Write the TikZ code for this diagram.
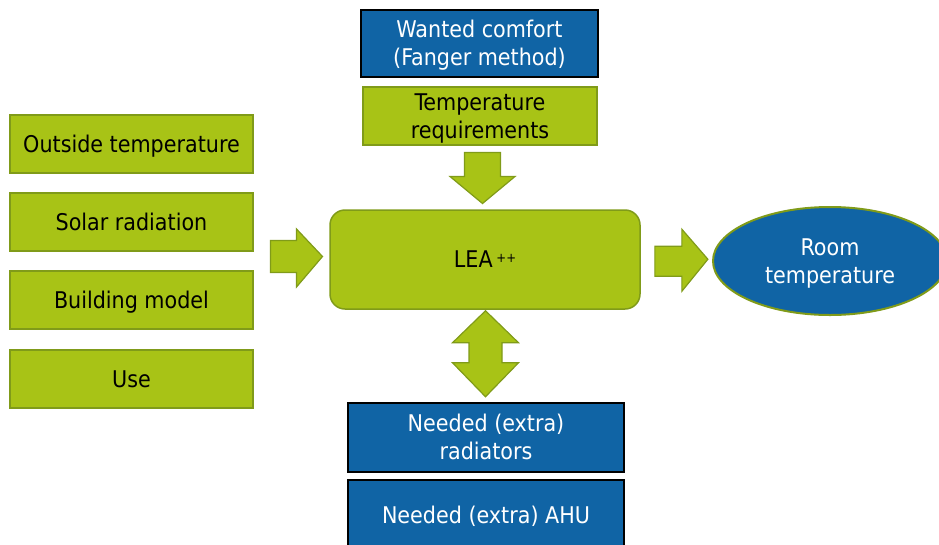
\documentclass[tikz,border=0pt]{standalone}
\usepackage{fontspec}
\setmainfont{DejaVu Sans Condensed}
\usetikzlibrary{shapes.geometric,calc}
\definecolor{lgreen}{RGB}{168,195,22}
\definecolor{dgreen}{RGB}{128,155,25}
\definecolor{dblue}{RGB}{16,100,165}
\newcommand\ls{\rule[-5.5pt]{0pt}{27.8pt}}
\begin{document}
\begin{tikzpicture}[x=1pt,y=-1pt,
  every node/.style={font=\fontsize{23}{28}\selectfont, align=center, inner sep=0pt},
  gbox/.style={draw=dgreen, line width=1.5pt, fill=lgreen, text=black},
  bbox/.style={draw=black, line width=2.5pt, fill=dblue, text=white},
  barrow/.style={draw=dgreen, line width=1.2pt, fill=lgreen, line join=miter}]
\useasboundingbox (0,0) rectangle (939,544);
\clip (0,0) rectangle (939,544);
% boxes
\node[bbox, minimum width=237, minimum height=67] (wc) at (479.5,43.5) {\ls Wanted comfort\\\ls(Fanger method)};
\node[gbox, minimum width=234, minimum height=58] (treq) at (480,116) {\ls Temperature\\\ls requirements};
\node[gbox, rounded corners=15pt, minimum width=310, minimum height=99] (lea) at (485,259.5) {\ls LEA\,\raisebox{0.45ex}{\fontsize{13}{13}\selectfont ++}};
\node[gbox, minimum width=243, minimum height=58] (o1) at (131.5,144) {\ls Outside temperature};
\node[gbox, minimum width=243, minimum height=58] (o2) at (131.5,222) {\ls Solar radiation};
\node[gbox, minimum width=243, minimum height=58] (o3) at (131.5,300) {\ls Building model};
\node[gbox, minimum width=243, minimum height=58] (o4) at (131.5,379) {\ls Use};
\node[ellipse, draw=dgreen, line width=2pt, fill=dblue, text=white, minimum width=234, minimum height=108] (room) at (830,261) {\ls Room\\\ls temperature};
\node[bbox, minimum width=276, minimum height=69] (rad) at (486,437.5) {\ls Needed (extra)\\\ls radiators};
\node[bbox, minimum width=276, minimum height=70] (ahu) at (486,515) {\ls Needed (extra) AHU};
% block arrows
\coordinate (dA) at ($(treq.south)!0.5!(lea.north)$);
\draw[barrow] ([shift={(-18,-25)}]dA) -- ([shift={(18,-25)}]dA) -- ([shift={(18,-1)}]dA) -- ([shift={(32.5,-1)}]dA) -- ([shift={(0,26)}]dA) -- ([shift={(-32.5,-1)}]dA) -- ([shift={(-18,-1)}]dA) -- cycle;
\coordinate (lA) at ($(o2.east |- lea.west)!0.5!(lea.west)$);
\draw[barrow] ([shift={(-21,-19)}]lA) -- ([shift={(5,-19)}]lA) -- ([shift={(5,-30.5)}]lA) -- ([shift={(31,-3)}]lA) -- ([shift={(5,27.5)}]lA) -- ([shift={(5,13)}]lA) -- ([shift={(-21,13)}]lA) -- cycle;
\coordinate (rA) at ($(lea.east)!0.5!(room.west)$);
\draw[barrow] ([shift={(-21.5,-14)}]rA) -- ([shift={(5.5,-14)}]rA) -- ([shift={(5.5,-31)}]rA) -- ([shift={(31.5,-1)}]rA) -- ([shift={(5.5,31)}]rA) -- ([shift={(5.5,16)}]rA) -- ([shift={(-21.5,16)}]rA) -- cycle;
\coordinate (bA) at ($(lea.south)!0.5!(rad.north)$);
\draw[barrow] ([shift={(0,-45)}]bA) -- ([shift={(33,-13)}]bA) -- ([shift={(16.5,-13)}]bA) -- ([shift={(16.5,7)}]bA) -- ([shift={(33,7)}]bA) -- ([shift={(0,41)}]bA) -- ([shift={(-33,7)}]bA) -- ([shift={(-16.5,7)}]bA) -- ([shift={(-16.5,-13)}]bA) -- ([shift={(-33,-13)}]bA) -- cycle;
\end{tikzpicture}
\end{document}
